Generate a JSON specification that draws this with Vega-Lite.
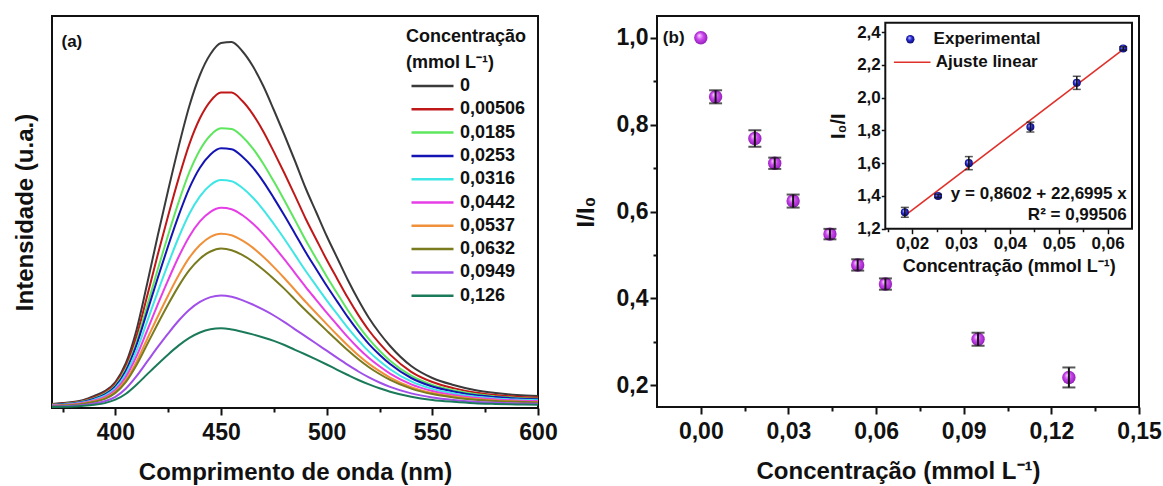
{
  "$schema": "https://vega.github.io/schema/vega-lite/v6.json",
  "padding": {"left": 12, "top": 15, "right": 0, "bottom": 0},
  "background": "white",
  "config": {
    "font": "Liberation Sans",
    "view": {"stroke": "#111111", "strokeWidth": 2},
    "axis": {"grid": false, "domain": false, "labelFont": "Liberation Sans", "labelFontWeight": "bold", "labelFontSize": 23, "labelColor": "#111111", "titleFont": "Liberation Sans", "titleFontWeight": "bold", "titleFontSize": 24, "titleColor": "#111111", "tickColor": "#111111", "tickWidth": 2, "labelFlush": false, "labelOverlap": false},
    "legend": {"labelFont": "Liberation Sans", "titleFont": "Liberation Sans", "labelColor": "#111111", "titleColor": "#111111", "padding": 0},
    "text": {"font": "Liberation Sans", "fontWeight": "bold", "color": "#111111"}
  },
  "datasets": {
    "spectra": [
      {"w":370,"0":4,"0,00506":3.6,"0,0185":3.2,"0,0253":3.0,"0,0316":2.7,"0,0442":2.4,"0,0537":2.1,"0,0632":1.9,"0,0949":1.4,"0,126":1.0},
      {"w":375,"0":5,"0,00506":4.4,"0,0185":4.0,"0,0253":3.7,"0,0316":3.3,"0,0442":2.9,"0,0537":2.6,"0,0632":2.4,"0,0949":1.7,"0,126":1.2},
      {"w":380,"0":6,"0,00506":5.4,"0,0185":4.9,"0,0253":4.6,"0,0316":4.1,"0,0442":3.7,"0,0537":3.3,"0,0632":3.0,"0,0949":2.2,"0,126":1.6},
      {"w":385,"0":8,"0,00506":7.3,"0,0185":6.7,"0,0253":6.3,"0,0316":5.7,"0,0442":5.2,"0,0537":4.6,"0,0632":4.3,"0,0949":3.1,"0,126":2.3},
      {"w":390,"0":12,"0,00506":10.8,"0,0185":9.9,"0,0253":9.4,"0,0316":8.4,"0,0442":7.6,"0,0537":6.7,"0,0632":6.2,"0,0949":4.5,"0,126":3.3},
      {"w":395,"0":17,"0,00506":15.5,"0,0185":14.3,"0,0253":13.6,"0,0316":12.3,"0,0442":11.1,"0,0537":9.9,"0,0632":9.2,"0,0949":6.8,"0,126":4.9},
      {"w":400,"0":26,"0,00506":24.3,"0,0185":22.6,"0,0253":21.6,"0,0316":19.8,"0,0442":18.0,"0,0537":16.2,"0,0632":15.1,"0,0949":11.2,"0,126":8.3},
      {"w":405,"0":45,"0,00506":42.0,"0,0185":39.2,"0,0253":37.4,"0,0316":34.3,"0,0442":31.2,"0,0537":28.1,"0,0632":26.1,"0,0949":19.5,"0,126":14.3},
      {"w":410,"0":78,"0,00506":71.7,"0,0185":66.3,"0,0253":63.0,"0,0316":57.3,"0,0442":51.8,"0,0537":46.4,"0,0632":43.0,"0,0949":31.8,"0,126":23.3},
      {"w":415,"0":124,"0,00506":111.7,"0,0185":101.9,"0,0253":96.1,"0,0316":86.4,"0,0442":77.4,"0,0537":68.8,"0,0632":63.5,"0,0949":46.3,"0,126":33.6},
      {"w":420,"0":172,"0,00506":152.9,"0,0185":138.3,"0,0253":129.8,"0,0316":115.9,"0,0442":103.3,"0,0537":91.3,"0,0632":84.0,"0,0949":60.8,"0,126":43.8},
      {"w":425,"0":218,"0,00506":192.5,"0,0185":173.3,"0,0253":162.2,"0,0316":144.3,"0,0442":128.1,"0,0537":112.8,"0,0632":103.7,"0,0949":74.6,"0,126":53.6},
      {"w":430,"0":262,"0,00506":230.1,"0,0185":206.4,"0,0253":192.8,"0,0316":171.0,"0,0442":151.5,"0,0537":133.0,"0,0632":122.1,"0,0949":87.5,"0,126":62.6},
      {"w":435,"0":302,"0,00506":263.9,"0,0185":235.8,"0,0253":219.8,"0,0316":194.3,"0,0442":171.6,"0,0537":150.3,"0,0632":137.8,"0,0949":98.3,"0,126":70.1},
      {"w":440,"0":333,"0,00506":289.7,"0,0185":258.1,"0,0253":240.2,"0,0316":211.7,"0,0442":186.6,"0,0537":163.0,"0,0632":149.3,"0,0949":106.1,"0,126":75.5},
      {"w":445,"0":354,"0,00506":306.9,"0,0185":272.8,"0,0253":253.5,"0,0316":223.0,"0,0442":196.2,"0,0537":171.1,"0,0632":156.5,"0,0949":110.9,"0,126":78.7},
      {"w":450,"0":365,"0,00506":315.5,"0,0185":279.7,"0,0253":259.7,"0,0316":227.9,"0,0442":200.2,"0,0537":174.3,"0,0632":159.4,"0,0949":112.6,"0,126":79.7},
      {"w":455,"0":366,"0,00506":315.4,"0,0185":279.1,"0,0253":258.7,"0,0316":226.7,"0,0442":198.8,"0,0537":172.8,"0,0632":157.8,"0,0949":111.2,"0,126":78.5},
      {"w":460,"0":357,"0,00506":307.2,"0,0185":271.5,"0,0253":251.6,"0,0316":220.2,"0,0442":193.0,"0,0537":167.6,"0,0632":153.1,"0,0949":107.9,"0,126":76.3},
      {"w":465,"0":342,"0,00506":293.9,"0,0185":259.7,"0,0253":240.6,"0,0316":210.5,"0,0442":184.5,"0,0537":160.4,"0,0632":146.5,"0,0949":103.5,"0,126":73.6},
      {"w":470,"0":322,"0,00506":276.6,"0,0185":244.3,"0,0253":226.4,"0,0316":198.2,"0,0442":173.9,"0,0537":151.2,"0,0632":138.3,"0,0949":98.3,"0,126":70.5},
      {"w":475,"0":298,"0,00506":256.1,"0,0185":226.4,"0,0253":209.9,"0,0316":184.0,"0,0442":161.6,"0,0537":140.9,"0,0632":129.1,"0,0949":92.5,"0,126":67.1},
      {"w":480,"0":273,"0,00506":234.7,"0,0185":207.6,"0,0253":192.5,"0,0316":169.0,"0,0442":148.6,"0,0537":129.8,"0,0632":119.1,"0,0949":85.9,"0,126":63.0},
      {"w":485,"0":247,"0,00506":212.4,"0,0185":187.9,"0,0253":174.3,"0,0316":153.1,"0,0442":134.9,"0,0537":118.0,"0,0632":108.4,"0,0949":78.7,"0,126":58.2},
      {"w":490,"0":220,"0,00506":189.5,"0,0185":167.9,"0,0253":155.9,"0,0316":137.2,"0,0442":121.1,"0,0537":106.2,"0,0632":97.7,"0,0949":71.6,"0,126":53.5},
      {"w":495,"0":196,"0,00506":168.8,"0,0185":149.6,"0,0253":139.0,"0,0316":122.4,"0,0442":108.2,"0,0537":95.0,"0,0632":87.5,"0,0949":64.5,"0,126":48.6},
      {"w":500,"0":172,"0,00506":148.2,"0,0185":131.5,"0,0253":122.2,"0,0316":107.7,"0,0442":95.3,"0,0537":83.9,"0,0632":77.4,"0,0949":57.3,"0,126":43.5},
      {"w":505,"0":150,"0,00506":129.1,"0,0185":114.5,"0,0253":106.4,"0,0316":93.8,"0,0442":83.0,"0,0537":73.0,"0,0632":67.4,"0,0949":50.1,"0,126":38.2},
      {"w":510,"0":128,"0,00506":110.2,"0,0185":97.7,"0,0253":90.8,"0,0316":80.1,"0,0442":70.9,"0,0537":62.5,"0,0632":57.7,"0,0949":43.1,"0,126":33.0},
      {"w":515,"0":108,"0,00506":92.9,"0,0185":82.4,"0,0253":76.6,"0,0316":67.6,"0,0442":59.8,"0,0537":52.7,"0,0632":48.7,"0,0949":36.5,"0,126":28.0},
      {"w":520,"0":90,"0,00506":77.5,"0,0185":68.8,"0,0253":63.9,"0,0316":56.4,"0,0442":50.0,"0,0537":44.1,"0,0632":40.8,"0,0949":30.6,"0,126":23.6},
      {"w":525,"0":75,"0,00506":64.6,"0,0185":57.3,"0,0253":53.3,"0,0316":47.0,"0,0442":41.7,"0,0537":36.8,"0,0632":34.0,"0,0949":25.5,"0,126":19.7},
      {"w":530,"0":62,"0,00506":53.4,"0,0185":47.3,"0,0253":44.0,"0,0316":38.8,"0,0442":34.4,"0,0537":30.4,"0,0632":28.1,"0,0949":21.1,"0,126":16.3},
      {"w":540,"0":42,"0,00506":36.2,"0,0185":32.3,"0,0253":30.0,"0,0316":26.6,"0,0442":23.6,"0,0537":20.9,"0,0632":19.4,"0,0949":14.6,"0,126":11.3},
      {"w":550,"0":30,"0,00506":26.0,"0,0185":23.1,"0,0253":21.5,"0,0316":19.1,"0,0442":17.0,"0,0537":15.0,"0,0632":13.9,"0,0949":10.5,"0,126":8.1},
      {"w":560,"0":23,"0,00506":19.9,"0,0185":17.7,"0,0253":16.5,"0,0316":14.6,"0,0442":12.9,"0,0537":11.4,"0,0632":10.6,"0,0949":8.0,"0,126":6.2},
      {"w":570,"0":18,"0,00506":15.6,"0,0185":13.9,"0,0253":12.9,"0,0316":11.4,"0,0442":10.2,"0,0537":9.0,"0,0632":8.3,"0,0949":6.3,"0,126":4.8},
      {"w":580,"0":15,"0,00506":13.0,"0,0185":11.6,"0,0253":10.9,"0,0316":9.6,"0,0442":8.6,"0,0537":7.6,"0,0632":7.0,"0,0949":5.3,"0,126":4.1},
      {"w":590,"0":13,"0,00506":11.3,"0,0185":10.1,"0,0253":9.5,"0,0316":8.4,"0,0442":7.5,"0,0537":6.6,"0,0632":6.2,"0,0949":4.6,"0,126":3.6},
      {"w":600,"0":12,"0,00506":10.4,"0,0185":9.3,"0,0253":8.7,"0,0316":7.7,"0,0442":6.9,"0,0537":6.1,"0,0632":5.6,"0,0949":4.2,"0,126":3.2}
    ],
    "quench": [
      {"x": 0, "y": 1.0, "e": 0},
      {"x": 0.00506, "y": 0.864, "e": 0.015},
      {"x": 0.0185, "y": 0.768, "e": 0.019},
      {"x": 0.0253, "y": 0.711, "e": 0.013},
      {"x": 0.0316, "y": 0.624, "e": 0.015},
      {"x": 0.0442, "y": 0.548, "e": 0.012},
      {"x": 0.0537, "y": 0.477, "e": 0.013},
      {"x": 0.0632, "y": 0.433, "e": 0.013},
      {"x": 0.0949, "y": 0.306, "e": 0.015},
      {"x": 0.126, "y": 0.218, "e": 0.023}
    ],
    "inset": [
      {"x": 0.0185, "y": 1.30, "e": 0.03, "s": "Experimental"},
      {"x": 0.0253, "y": 1.40, "e": 0.01, "s": "Experimental"},
      {"x": 0.0316, "y": 1.60, "e": 0.04, "s": "Experimental"},
      {"x": 0.0442, "y": 1.82, "e": 0.03, "s": "Experimental"},
      {"x": 0.0537, "y": 2.09, "e": 0.04, "s": "Experimental"},
      {"x": 0.0632, "y": 2.30, "e": 0.01, "s": "Experimental"}
    ],
    "fit": [
      {"x": 0.0185, "y": 1.2801, "s": "Ajuste linear"},
      {"x": 0.0632, "y": 2.2948, "s": "Ajuste linear"}
    ]
  },
  "spacing": 119,
  "bounds": "flush",
  "resolve": {"scale": {"color": "independent", "shape": "independent"}, "legend": {"color": "independent", "shape": "independent"}},
  "hconcat": [
    {
      "width": 486,
      "height": 392,
      "layer": [
        {
          "data": {"name": "spectra"},
          "transform": [{"fold": ["0", "0,00506", "0,0185", "0,0253", "0,0316", "0,0442", "0,0537", "0,0632", "0,0949", "0,126"], "as": ["conc", "val"]}],
          "mark": {"type": "line", "strokeWidth": 2, "interpolate": "monotone"},
          "encoding": {
            "x": {"field": "w", "type": "quantitative", "scale": {"domain": [370, 600], "nice": false, "zero": false},
              "axis": {"title": "Comprimento de onda (nm)", "values": [375, 400, 425, 450, 475, 500, 525, 550, 575, 600],
                "labelExpr": "datum.value % 50 === 0 ? format(datum.value, 'd') : ''",
                "tickSize": {"condition": {"test": "datum.value % 50 === 0", "value": 7}, "value": 4},
                "labelPadding": 6, "titlePadding": 16}},
            "y": {"field": "val", "type": "quantitative", "scale": {"domain": [0, 392], "nice": false},
              "axis": {"title": "Intensidade (u.a.)", "ticks": false, "labels": false, "titlePadding": 15}},
            "color": {"field": "conc", "type": "nominal",
              "scale": {"domain": ["0", "0,00506", "0,0185", "0,0253", "0,0316", "0,0442", "0,0537", "0,0632", "0,0949", "0,126"],
                "range": ["#3a3a3a", "#c01818", "#5ee65e", "#1414b4", "#3ee6e6", "#e63ee6", "#f0903a", "#7a7a1e", "#a050e8", "#1a7a5a"]},
              "legend": {"orient": "none", "legendX": 354, "legendY": 12, "title": ["Concentração", "(mmol L⁻¹)"],
                "titleFontSize": 18, "titleFontWeight": "bold", "titleLineHeight": 26, "titleAlign": "left", "titleAnchor": "start", "titlePadding": 4,
                "labelFontSize": 18, "labelFontWeight": "bold", "symbolType": "stroke", "symbolSize": 1764, "symbolStrokeWidth": 2.5,
                "clipHeight": 20, "rowPadding": 3.3, "labelOffset": 5, "symbolOffset": 4}}
          }
        },
        {
          "data": {"values": [{}]},
          "mark": {"type": "text", "text": "(a)", "align": "left", "baseline": "middle", "fontSize": 17},
          "encoding": {"x": {"datum": 374.5, "type": "quantitative"}, "y": {"datum": 366, "type": "quantitative"}}
        }
      ]
    },
    {
      "width": 482,
      "height": 391,
      "layer": [
        {
          "layer": [
            {
              "data": {"name": "quench"},
              "mark": {"type": "point", "filled": true, "size": 180, "opacity": 1,
                "fill": {"gradient": "radial", "x1": 0.38, "y1": 0.32, "r1": 0.02, "x2": 0.5, "y2": 0.5, "r2": 0.55,
                  "stops": [{"offset": 0, "color": "#f8d0ff"}, {"offset": 0.45, "color": "#cc46ee"}, {"offset": 1, "color": "#8a1cb0"}]}},
              "encoding": {
                "x": {"field": "x", "type": "quantitative", "title": "Concentração (mmol L⁻¹)", "scale": {"domain": [-0.015, 0.15], "nice": false, "zero": false},
                  "axis": {"title": "Concentração (mmol L⁻¹)", "values": [0, 0.015, 0.03, 0.045, 0.06, 0.075, 0.09, 0.105, 0.12, 0.135, 0.15],
                    "labelExpr": "abs(datum.value*100/3 - round(datum.value*100/3)) < 0.01 ? replace(format(datum.value, '.2f'), '.', ',') : ''",
                    "tickSize": {"condition": {"test": "abs(datum.value*100/3 - round(datum.value*100/3)) < 0.01", "value": 7}, "value": 4},
                    "labelPadding": 6, "titlePadding": 16}},
                "y": {"field": "y", "type": "quantitative", "title": "I/I₀", "scale": {"domain": [0.15, 1.05], "nice": false, "zero": false},
                  "axis": {"title": "I/I₀", "values": [0.2, 0.3, 0.4, 0.5, 0.6, 0.7, 0.8, 0.9, 1.0],
                    "labelExpr": "abs(datum.value*5 - round(datum.value*5)) < 0.01 ? replace(format(datum.value, '.1f'), '.', ',') : ''",
                    "tickSize": {"condition": {"test": "abs(datum.value*5 - round(datum.value*5)) < 0.01", "value": 7}, "value": 4},
                    "labelPadding": 2, "titlePadding": 18}}
              }
            },
            {
              "data": {"name": "quench"},
              "transform": [{"filter": "datum.e > 0"}],
              "mark": {"type": "errorbar", "ticks": {"size": 13, "thickness": 2, "color": "#111111"}, "rule": {"strokeWidth": 2, "color": "#111111"}},
              "encoding": {
                "x": {"field": "x", "type": "quantitative", "title": "Concentração (mmol L⁻¹)"},
                "y": {"field": "y", "type": "quantitative", "title": "I/I₀"},
                "yError": {"field": "e"}
              }
            },
            {
              "data": {"values": [{}]},
              "mark": {"type": "text", "text": "(b)", "align": "left", "baseline": "middle", "fontSize": 17},
              "encoding": {"x": {"datum": -0.013, "type": "quantitative"}, "y": {"datum": 1.0, "type": "quantitative"}}
            }
          ]
        },
        {
          "layer": [
            {
              "data": {"values": [{}]},
              "mark": {"type": "rect", "fill": "white", "stroke": "#111111", "strokeWidth": 2},
              "encoding": {
                "x": {"datum": 0.0145, "type": "quantitative"},
                "x2": {"datum": 0.065},
                "y": {"datum": 1.2, "type": "quantitative"},
                "y2": {"datum": 2.457}
              }
            },
            {
              "data": {"name": "fit"},
              "mark": {"type": "line", "strokeWidth": 1.6},
              "encoding": {
                "x": {"field": "x", "type": "quantitative", "title": "Concentração (mmol L⁻¹)", "scale": {"domain": [0.0145, 0.065], "range": [228.3, 475], "nice": false, "zero": false},
                  "axis": {"orient": "bottom", "offset": -178.3, "title": "Concentração (mmol L⁻¹)", "titleFontSize": 18, "labelFontSize": 17,
                    "values": [0.015, 0.02, 0.025, 0.03, 0.035, 0.04, 0.045, 0.05, 0.055, 0.06],
                    "labelExpr": "abs(datum.value*100 - round(datum.value*100)) < 0.01 ? replace(format(datum.value, '.2f'), '.', ',') : ''",
                    "tickSize": {"condition": {"test": "abs(datum.value*100 - round(datum.value*100)) < 0.01", "value": 5}, "value": 3},
                    "tickWidth": 1.5, "labelPadding": 2, "titlePadding": 6}},
                "y": {"field": "y", "type": "quantitative", "title": "I₀/I", "scale": {"domain": [1.2, 2.457], "range": [212.7, 6.7], "nice": false, "zero": false},
                  "axis": {"orient": "left", "offset": -228.3, "title": "I₀/I", "titleFontSize": 20, "labelFontSize": 17,
                    "values": [1.2, 1.3, 1.4, 1.5, 1.6, 1.7, 1.8, 1.9, 2.0, 2.1, 2.2, 2.3, 2.4],
                    "labelExpr": "abs(datum.value*5 - round(datum.value*5)) < 0.01 ? replace(format(datum.value, '.1f'), '.', ',') : ''",
                    "tickSize": {"condition": {"test": "abs(datum.value*5 - round(datum.value*5)) < 0.01", "value": 4}, "value": 2.5},
                    "tickWidth": 1.5, "labelPadding": 1, "titlePadding": 8}},
                "color": {"field": "s", "type": "nominal",
                  "scale": {"domain": ["Ajuste linear"], "range": ["#e0302a"]},
                  "legend": {"orient": "none", "legendX": 235.7, "legendY": 26.7, "title": null,
                    "labelFontSize": 17, "labelFontWeight": "bold", "symbolType": "stroke", "symbolSize": 1340, "symbolStrokeWidth": 1.6,
                    "labelOffset": 4}}
              }
            },
            {
              "data": {"name": "inset"},
              "mark": {"type": "point", "filled": true, "size": 65, "opacity": 1,
                "fill": {"gradient": "radial", "x1": 0.38, "y1": 0.32, "r1": 0.02, "x2": 0.5, "y2": 0.5, "r2": 0.55,
                  "stops": [{"offset": 0, "color": "#b8c0ff"}, {"offset": 0.45, "color": "#2a2ad8"}, {"offset": 1, "color": "#08085a"}]}},
              "encoding": {
                "x": {"field": "x", "type": "quantitative", "title": "Concentração (mmol L⁻¹)"},
                "y": {"field": "y", "type": "quantitative", "title": "I₀/I"},
                "shape": {"field": "s", "type": "nominal", "scale": {"domain": ["Experimental"], "range": ["circle"]},
                  "legend": {"orient": "none", "legendX": 244.8, "legendY": 14.7, "title": null,
                    "labelFontSize": 17, "labelFontWeight": "bold", "symbolSize": 70, "labelOffset": 14.8}}
              }
            },
            {
              "data": {"name": "inset"},
              "mark": {"type": "errorbar", "ticks": {"size": 8, "thickness": 1.5, "color": "#111111"}, "rule": {"strokeWidth": 1.5, "color": "#111111"}},
              "encoding": {
                "x": {"field": "x", "type": "quantitative", "title": "Concentração (mmol L⁻¹)"},
                "y": {"field": "y", "type": "quantitative", "title": "I₀/I"},
                "yError": {"field": "e"}
              }
            },
            {
              "data": {"values": [{}]},
              "mark": {"type": "text", "text": "y = 0,8602 + 22,6995 x", "align": "right", "baseline": "middle", "fontSize": 17},
              "encoding": {"x": {"datum": 0.0639, "type": "quantitative"}, "y": {"datum": 1.41, "type": "quantitative"}}
            },
            {
              "data": {"values": [{}]},
              "mark": {"type": "text", "text": "R² = 0,99506", "align": "right", "baseline": "middle", "fontSize": 17},
              "encoding": {"x": {"datum": 0.0639, "type": "quantitative"}, "y": {"datum": 1.285, "type": "quantitative"}}
            }
          ]
        }
      ],
      "resolve": {"scale": {"x": "independent", "y": "independent"}, "axis": {"x": "independent", "y": "independent"}}
    }
  ]
}
